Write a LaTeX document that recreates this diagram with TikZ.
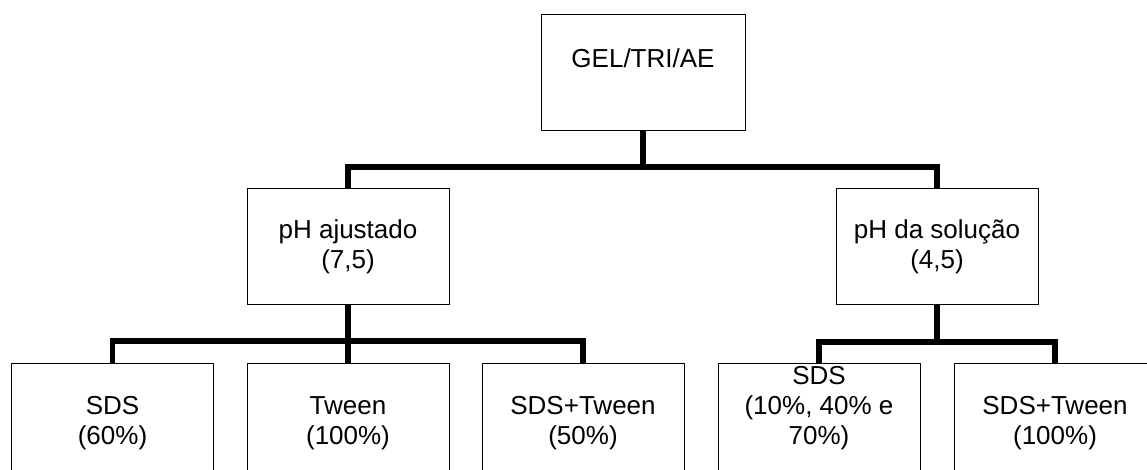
\documentclass[tikz,border=0pt]{standalone}
\usepackage{fontspec}
\setmainfont{Liberation Sans}
\usepackage{tikz}
\tikzset{
	box/.style={draw, line width=1pt, minimum width=202, minimum height=115, align=center, inner sep=0pt},
	leaf/.style={box, minimum height=120},
	bar/.style={line width=5.5pt}
}

\begin{document}
\begin{tikzpicture}[x=1pt, y=-1pt, font=\fontsize{26}{30}\selectfont]
		%%%%% START %%%%%
		\useasboundingbox (0, 0) rectangle (1147, 470);
		\clip (0, 0) rectangle (1147, 470);
		
		\node[box, minimum width=204, minimum height=116] (gel) at (643, 73) {GEL/TRI/AE\\\mbox{}};
		
		\node[box] (ajust) at (348, 246.5) {pH ajustado\\(7,5)};
		\node[box] (solu) at (937, 246.5) {pH da solução\\(4,5)};
		
		\node[leaf] (sdsA) at (112.5, 423) {SDS\\(60\%)};
		\node[leaf] (tween) at (348, 423) {Tween\\(100\%)};
		\node[leaf] (mixA) at (583, 423) {SDS+Tween\\(50\%)};
		\node[leaf, label={[align=center, yshift=15]center:SDS\\(10\%, 40\% e\\70\%)}] (sdsB) at (819, 423) {};
		\node[leaf] (mixB) at (1055, 423) {SDS+Tween\\(100\%)};
		
		\coordinate (top) at (643, 167);
		\coordinate (left) at (348, 341);
		\coordinate (right) at (937, 342);
		
		\draw[bar] (gel.south) -- (top);
		\draw[bar] (ajust.north) |- (top) -| (solu.north);
		
		\draw[bar] (ajust.south) -- (left);
		\draw[bar] (sdsA.north) |- (left) -| (mixA.north);
		\draw[bar] (left) -- (tween.north);
		
		\draw[bar] (solu.south) -- (right);
		\draw[bar] (sdsB.north) |- (right) -| (mixB.north);
		
		%%%%% END %%%%%
	\end{tikzpicture}
\end{document}
